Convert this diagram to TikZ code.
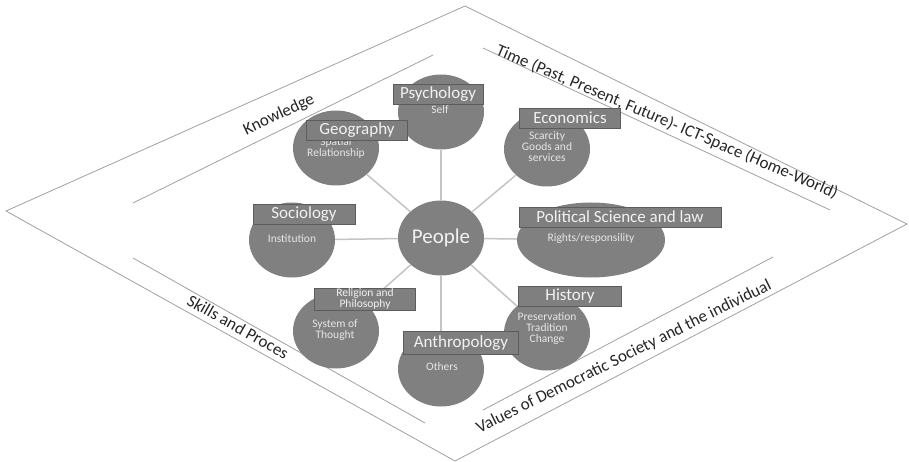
\documentclass[tikz,border=0pt]{standalone}
\usepackage{fontspec}
\setmainfont{Carlito}
\usetikzlibrary{shapes.geometric,positioning}
\definecolor{discgray}{HTML}{808080}
\definecolor{tabgray}{HTML}{7F7F7F}
\definecolor{tabedge}{HTML}{5C5C5C}
\definecolor{spokegray}{HTML}{C4C4C4}
\definecolor{rimgray}{HTML}{A0A0A0}
\definecolor{txtlight}{HTML}{F2F2F2}
\definecolor{notelight}{HTML}{E6E6E6}
\definecolor{bandtext}{HTML}{262626}

\begin{document}
\begin{tikzpicture}[x=1pt, y=-1pt,
  disc/.style={ellipse, fill=discgray, inner sep=0pt, minimum width=86pt, minimum height=75pt},
  tab/.style={rectangle, draw=tabedge, fill=tabgray, line width=0.8pt, inner sep=0pt, minimum height=20pt,
    text=txtlight, font=\fontsize{17}{17}\selectfont},
  note/.style={align=center, text=notelight, inner sep=0pt, font=\fontsize{11.5}{11}\selectfont},
  spoke/.style={draw=spokegray, line width=1.5pt},
  rim/.style={draw=rimgray, line width=0.8pt},
  band/.style={inner sep=0pt, text=bandtext, font=\fontsize{17}{17}\selectfont}
]
  \useasboundingbox (0,0) rectangle (909,462);

  % frame
  \draw[rim] (6,211) -- (465,6) -- (907,224) -- (455,461) -- cycle;
  \draw[rim] (133,203) -- (433,55);
  \draw[rim] (483,48) -- (830,210);
  \draw[rim] (133,258) -- (425,423);
  \draw[rim] (483,410) -- (773,257);

  \node[band, rotate=25] (knowledge) at (279,115) {Knowledge};
  \node[band, rotate=-23] (timespace) at (667,122) {Time (Past, Present, Future)- ICT-Space (Home-World)};
  \node[band, rotate=-29.5] (skills) at (238,327) {Skills and Proces};
  \node[band, rotate=26.3] (values) at (624,357) {Values of Democratic Society and the individual};

  % discs
  \node[disc] (people) at (441,238) {};
  \node[disc] (psych) at (441,112) {};
  \node[disc] (geo) at (336,148) {};
  \node[disc] (econ) at (547,149) {};
  \node[disc] (socio) at (292,240) {};
  \node[disc, minimum width=148pt] (polsci) at (591,240) {};
  \node[disc] (relig) at (336,331) {};
  \node[disc] (anthro) at (441,369) {};
  \node[disc] (hist) at (547,333) {};

  \foreach \n in {psych,geo,econ,socio,polsci,relig,anthro,hist}
    \draw[spoke] (people) -- (\n);

  \node[inner sep=0pt, text=txtlight, font=\fontsize{21}{21}\selectfont] (peoplelbl) at (441,238) {People};

  \node[note] (selfnote) at (440,110) {Self};
  \node[note] (geonote) at (336,148) {Spatial\\Relationship};
  \node[note] (econnote) at (547,147) {Scarcity\\Goods and\\services};
  \node[note] (socionote) at (292,239) {Institution};
  \node[note] (polscinote) at (591,238) {Rights/responsility};
  \node[note] (relignote) at (335,330) {System of\\Thought};
  \node[note] (anthronote) at (442,367) {Others};
  \node[note] (histnote) at (547,329) {Preservation\\Tradition\\Change};

  % tabs
  \node[tab, minimum width=90pt] (psychtab) at (438,94) {Psychology};
  \node[tab, minimum width=101pt] (geotab) at (357,130) {Geography};
  \node[tab, minimum width=101pt] (econtab) at (570,118) {Economics};
  \node[tab, minimum width=102pt] (sociotab) at (304,214) {Sociology};
  \node[tab, minimum width=202pt] (polscitab) at (620,217) {Political Science and law};
  \node[tab, minimum width=101pt, minimum height=22pt, align=center, font=\fontsize{11.5}{11}\selectfont] (religtab) at (365,299) {Religion and\\Philosophy};
  \node[tab, minimum width=103pt] (histtab) at (570,296) {History};
  \node[tab, minimum width=115pt, minimum height=23pt] (anthrotab) at (461,343) {Anthropology};
\end{tikzpicture}
\end{document}
